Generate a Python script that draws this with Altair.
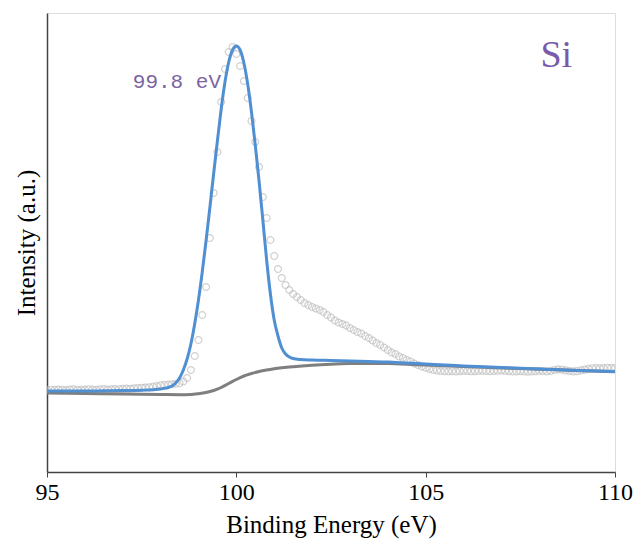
import altair as alt
import numpy as np
import pandas as pd

# ---- measured spectrum (open circles), 0.1 eV steps from 95.0 to 110.0 ----
data_energy = np.round(np.arange(95.0, 110.001, 0.1), 1).tolist()
data_intensity = [
    82.0, 82.3, 82.1, 82.5, 82.2, 82.0, 82.4, 82.6, 82.3, 82.1,
    82.5, 82.8, 82.4, 82.2, 82.6, 82.9, 82.5, 82.7, 83.0, 82.8,
    83.1, 83.4, 83.2, 83.6, 83.9, 84.1, 84.5, 84.8, 85.3, 85.9,
    86.6, 87.0, 87.4, 87.8, 88.3, 88.9, 90.5, 94.0, 102.0, 116.0,
    132, 157, 185, 234, 279, 320, 370, 403, 420, 425,
    418, 406, 391, 374, 351, 330, 305, 275, 254, 232,
    216, 203, 194, 187, 182, 178, 175, 172, 169, 167,
    165, 163.5, 162, 160, 157, 154.5, 151.5, 149.5, 148, 146.5,
    144, 142, 140, 138.5, 136, 134, 131.5, 129, 127, 124.5,
    122, 119.5, 118, 115.5, 114, 112, 110.5, 108.5, 107, 105.5,
    104.3, 103, 102, 101.5, 101, 100.8, 100.7, 100.8, 100.6, 100.9,
    101.2, 101, 100.7, 100.9, 101.2, 101.4, 101.1, 100.8, 101.0, 101.3,
    101.5, 101.2, 100.9, 100.6, 100.5, 100.8, 100.6, 100.3, 100.5, 100.9,
    101.3, 101.0, 100.7, 101.2, 102.0, 102.6, 102.3, 101.6, 101.0, 100.6,
    100.9, 101.6, 102.4, 103.2, 103.8, 104.0, 103.7, 103.9, 104.3, 104.1,
    104.0,
]

# ---- fitted peak envelope (blue) ----
fit_energy = [95.0, 95.5, 96.0, 96.5, 97.0, 97.5, 97.8, 98.0, 98.1, 98.2,
              98.3, 98.4, 98.5, 98.6, 98.7, 98.8, 98.9, 99.0, 99.1, 99.2,
              99.3, 99.4, 99.5, 99.6, 99.7, 99.8, 99.9, 100.0, 100.1, 100.2,
              100.3, 100.4, 100.5, 100.6, 100.7, 100.8, 100.9, 101.0, 101.1, 101.2,
              101.3, 101.4, 101.5, 101.7, 102.0, 102.5, 103.0, 103.5, 104.0, 104.5,
              105.0, 105.5, 106.0, 107.0, 108.0, 109.0, 110.0]
fit_intensity = [81.0, 81.0, 81.0, 81.2, 81.4, 81.8, 82.3, 83.0, 83.6, 84.5,
                 86.0, 89.0, 94.0, 102.0, 113.0, 128.0, 148.0, 172.0, 200.0, 231.0,
                 264.0, 298.0, 331.0, 363.0, 390.0, 410.0, 422.0, 426.0, 422.0, 409.0,
                 388.0, 360.0, 327.0, 291.0, 252.0, 212.0, 178.0, 152.0, 136.0, 124.0,
                 118.0, 115.0, 113.5, 112.5, 112.0, 111.5, 111.0, 110.5, 110.0, 109.0,
                 108.0, 107.0, 106.0, 104.5, 103.0, 101.5, 100.5]

# ---- Shirley-type background (gray) ----
bg_energy = [95.0, 96.0, 97.0, 98.0, 98.5, 98.8, 99.0, 99.2, 99.4, 99.6,
             99.8, 100.0, 100.2, 100.4, 100.6, 100.8, 101.0, 101.5, 102.0, 102.5,
             103.0, 103.5, 104.0, 104.5, 105.0, 106.0, 107.0, 108.0, 109.0, 110.0]
bg_intensity = [79.0, 78.5, 78.0, 77.5, 77.3, 77.5, 78.3, 79.5, 81.5, 84.5,
                88.5, 92.5, 96.0, 98.5, 100.5, 102.0, 103.2, 105.3, 106.8, 107.8,
                108.4, 108.6, 108.4, 107.8, 107.0, 105.5, 104.0, 102.8, 101.5, 100.3]

# ---- annotations ----
ann_text = ["99.8 eV"]
ann_energy = [98.43]
ann_intensity = [390]
elem_text = ["Si"]
elem_energy = [108.45]
elem_intensity = [416]

df_data = pd.DataFrame({"E": data_energy, "I": data_intensity})
df_fit = pd.DataFrame({"E": fit_energy, "I": fit_intensity})
df_bg = pd.DataFrame({"E": bg_energy, "I": bg_intensity})
df_ann = pd.DataFrame({"E": ann_energy, "I": ann_intensity, "t": ann_text})
df_elem = pd.DataFrame({"E": elem_energy, "I": elem_intensity, "t": elem_text})

xscale = alt.Scale(domain=[95, 110], nice=False, zero=False)
yscale = alt.Scale(domain=[0, 459], nice=False, zero=False)

xaxis = alt.Axis(title="Binding Energy (eV)", values=[95, 100, 105, 110], format="d",
                 tickSize=5, tickColor="#444", domainColor="#444", domainWidth=1.5,
                 labelFont="Liberation Serif", labelFontSize=24, labelColor="#000",
                 labelPadding=3, labelFlush=False, grid=False,
                 titleFont="Liberation Serif", titleFontSize=25, titleFontWeight="normal",
                 titleColor="#000", titlePadding=8)
yaxis = alt.Axis(title="Intensity (a.u.)", labels=False, ticks=False, grid=False,
                 domainColor="#444", domainWidth=1.5,
                 titleFont="Liberation Serif", titleFontSize=25, titleFontWeight="normal",
                 titleColor="#000", titlePadding=8)

pts = alt.Chart(df_data).mark_point(shape="circle", filled=False, size=48,
                                    stroke="#bdbdbd", strokeWidth=1.2, clip=True).encode(
    x=alt.X("E:Q", scale=xscale, axis=xaxis),
    y=alt.Y("I:Q", scale=yscale, axis=yaxis),
)

bg = alt.Chart(df_bg).mark_line(color="#7f7f7f", strokeWidth=3, interpolate="monotone", clip=True).encode(
    x=alt.X("E:Q", scale=xscale), y=alt.Y("I:Q", scale=yscale))

fit = alt.Chart(df_fit).mark_line(color="#4f8fd2", strokeWidth=3, interpolate="monotone", clip=True).encode(
    x=alt.X("E:Q", scale=xscale), y=alt.Y("I:Q", scale=yscale))

ann = alt.Chart(df_ann).mark_text(font="Liberation Mono", fontSize=21, color="#7a64a2",
                                  align="center", baseline="middle").encode(
    x=alt.X("E:Q", scale=xscale), y=alt.Y("I:Q", scale=yscale), text="t:N")

elem = alt.Chart(df_elem).mark_text(font="Liberation Serif", fontSize=38, color="#7a5aaa",
                                    align="center", baseline="middle").encode(
    x=alt.X("E:Q", scale=xscale), y=alt.Y("I:Q", scale=yscale), text="t:N")

chart = alt.layer(pts, bg, fit, ann, elem).properties(
    width=568, height=459,
    autosize=alt.AutoSizeParams(type="none"),
    padding={"left": 47, "top": 13, "right": 23, "bottom": 73},
).configure_view(stroke="#777", strokeWidth=1.5).configure(background="white")

chart.save("out.html", embed_options={"renderer": "svg", "actions": False})
